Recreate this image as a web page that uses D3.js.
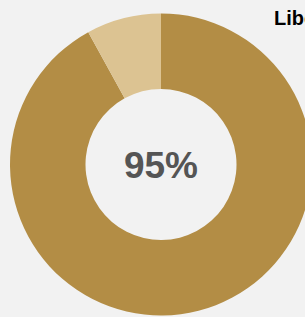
<!DOCTYPE html>
<html>
<head>
<meta charset="utf-8">
<script src="https://cdn.jsdelivr.net/npm/d3@7"></script>
<style>
  html, body { margin: 0; padding: 0; background: #f2f2f2; }
  svg { display: block; }
</style>
</head>
<body>
<div id="chart"></div>
<script>
// slice data
const categories = ["Share", "Rest"];
const values = [92, 8];
const colors = ["#b38d45", "#dcc392"];
const centerLabel = "95%";
const legendLabel = "Liberal";

const width = 305, height = 317;
const cx = 161, cy = 164.5;
const outerR = 151, innerR = 75.5;

const svg = d3.select("#chart").append("svg")
  .attr("width", width)
  .attr("height", height);

svg.append("rect")
  .attr("width", width)
  .attr("height", height)
  .attr("fill", "#f2f2f2");

const pie = d3.pie().sort(null).value(d => d);
const arc = d3.arc().innerRadius(innerR).outerRadius(outerR);

const color = d3.scaleOrdinal().domain(categories).range(colors);

const g = svg.append("g")
  .attr("transform", `translate(${cx},${cy})`);

g.selectAll("path")
  .data(pie(values))
  .join("path")
  .attr("d", arc)
  .attr("fill", (d, i) => color(categories[i]));

g.append("text")
  .attr("text-anchor", "middle")
  .attr("y", 13.5)
  .style("font-family", "'Liberation Sans', Arial, sans-serif")
  .style("font-weight", "bold")
  .style("font-size", "37px")
  .style("fill", "#555555")
  .text(centerLabel);

// legend label, cut off by the right edge
svg.append("text")
  .attr("x", 274)
  .attr("y", 25)
  .style("font-family", "'Liberation Sans', Arial, sans-serif")
  .style("font-weight", "bold")
  .style("font-size", "20px")
  .style("fill", "#000")
  .text(legendLabel);
</script>
</body>
</html>
